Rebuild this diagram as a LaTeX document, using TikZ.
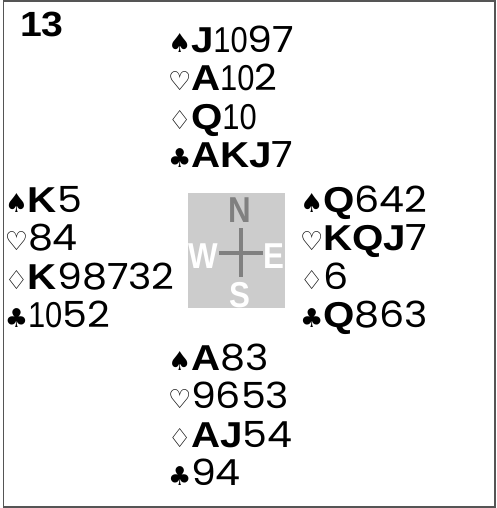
\documentclass[tikz,border=0pt]{standalone}
\usepackage{fontspec}
\usepackage{graphicx}
\setmainfont{Liberation Sans}
\newfontfamily\suitfont{DejaVu Sans}
\newfontfamily\spotfont{Poppins}
\definecolor{framegray}{HTML}{555555}
\definecolor{boxgray}{HTML}{CCCCCC}
\definecolor{crossgray}{HTML}{808080}
\newcommand\tn{{\rmfamily\scalebox{0.78}[1]{\fontsize{36}{36}\selectfont 10}}}
\newcommand\hrow[3]{\makebox[23pt][l]{\suitfont\fontsize{26}{26}\selectfont #1}\scalebox{1.12}[1]{\fontsize{36}{36}\selectfont\bfseries #2}\scalebox{1.1}[1]{\spotfont\fontsize{36}{36}\selectfont #3}}
\begin{document}
\begin{tikzpicture}[x=1pt,y=-1pt,
  row/.style={anchor=base west,inner sep=0pt,outer sep=0pt},
  dir/.style={inner sep=0pt,xscale=0.87,font=\fontsize{36}{36}\selectfont\bfseries}]
\useasboundingbox (0,0) rectangle (496,508);
\draw[framegray,line width=1.5pt] (3.5,1) rectangle (495.2,507);
\node[row,font=\fontsize{35}{35}\selectfont\bfseries,xscale=1.12] (num) at (20,37) {13};
% North
\node[row] (n1) at (168,53) {\hrow{♠}{J}{\tn97}};
\node[row] (n2) at (168,91) {\hrow{♡}{A}{\tn2}};
\node[row] (n3) at (168,129) {\hrow{♢}{Q}{\tn}};
\node[row] (n4) at (168,167) {\hrow{♣}{AKJ}{7}};
% West
\node[row] (w1) at (5,212) {\hrow{♠}{K}{5}};
\node[row] (w2) at (5,250) {\hrow{♡}{}{84}};
\node[row] (w3) at (5,289) {\hrow{♢}{K}{98732}};
\node[row] (w4) at (5,327) {\hrow{♣}{}{\tn52}};
% East
\node[row] (e1) at (300,212) {\hrow{♠}{Q}{642}};
\node[row] (e2) at (300,250) {\hrow{♡}{KQJ}{7}};
\node[row] (e3) at (300,289) {\hrow{♢}{}{6}};
\node[row] (e4) at (300,327) {\hrow{♣}{Q}{863}};
% South
\node[row] (s1) at (168,370) {\hrow{♠}{A}{83}};
\node[row] (s2) at (168,408) {\hrow{♡}{}{9653}};
\node[row] (s3) at (168,447) {\hrow{♢}{AJ}{54}};
\node[row] (s4) at (168,485) {\hrow{♣}{}{94}};
% compass
\fill[boxgray] (188,193) rectangle (285,308);
\coordinate (cc) at (241,253);
\draw[crossgray,line width=4.5pt] (219,253) -- (263,253);
\draw[crossgray,line width=4.5pt] (241,228) -- (241,277);
\node[dir,text=crossgray] (cn) at (240,210.5) {N};
\node[dir,text=white] (cw) at (203.5,256) {W};
\node[dir,text=white] (ce) at (274,256) {E};
\node[dir,text=white] (cs) at (240,295.5) {S};
\end{tikzpicture}
\end{document}
